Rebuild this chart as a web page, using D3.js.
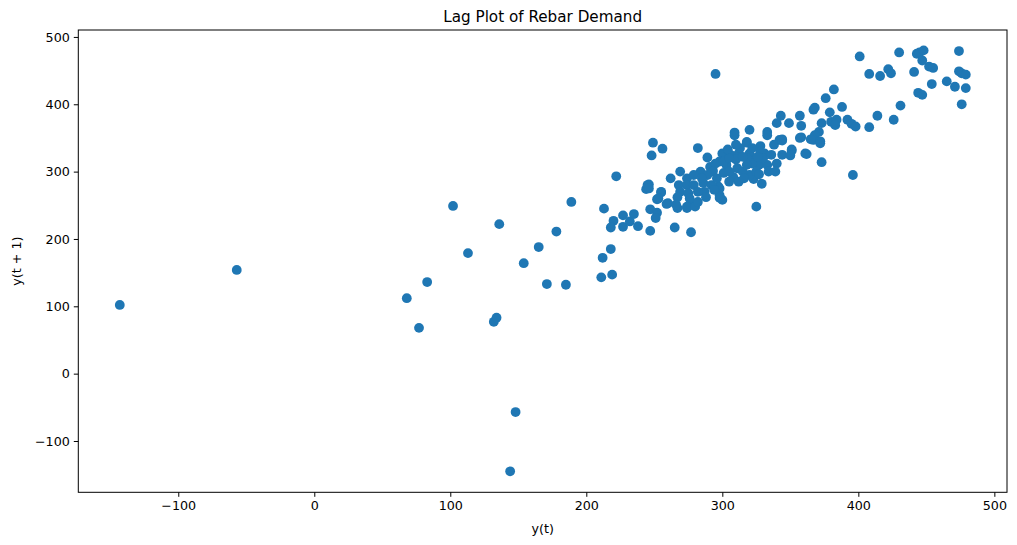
<!DOCTYPE html>
<html><head><meta charset="utf-8">
<script src="https://cdn.jsdelivr.net/npm/d3@7"></script>
<style>
body{margin:0;background:#fff;}
text{font-family:"DejaVu Sans",sans-serif;fill:#000;}
</style></head>
<body><svg id="c" width="1017" height="545"></svg>
<script>
const title = "Lag Plot of Rebar Demand";
const xLabel = "y(t)";
const yLabel = "y(t + 1)";
const xTicks = [-100, 0, 100, 200, 300, 400, 500];
const yTicks = [-100, 0, 100, 200, 300, 400, 500];
const points = [
[-143,102],[-57,154],[68,112],[77,68],[83,136],[102,249],[113,179],[132,77],[134,83],[136,222],[144,-145],[148,-57],[154,164],[165,188],[171,133],[178,211],[185,132],[189,255],
[211,143],[212,172],[218,185],[219,147],[213,245],[220,227],[218,217],[227,218],[232,226],[238,219],[227,235],[235,237],[222,293],
[247,244],[252,239],[251,231],[247,212],[244,274],[246,281],[255,270],[252,259],[259,252],[262,290],[269,300],[249,343],[248,324],[256,334],[265,217],[277,210],[267,246],[274,246],[279,250],[282,335],[289,321],[295,445],
[382,422],[376,409],[367,392],[368,395],[379,388],[357,383],[343,383],[340,372],[349,372],[358,368],[320,362],[309,358],[333,359],[358,351],[371,359],[368,354],[373,372],[380,374],[384,377],[318,343],[342,347],[338,340],[351,333],[328,338],[367,347],[372,345],[344,348],
[401,471],[408,445],[416,442],[388,396],[383,369],[392,377],[395,371],[398,367],[414,383],[408,366],[365,348],[430,477],[443,475],[445,477],[448,480],[474,479],[447,465],[452,456],[455,454],[422,452],[424,446],[441,448],[474,449],[476,446],[479,444],[454,430],[444,417],[447,414],[465,434],[471,426],[479,424],[476,400],[431,398],[426,377],[372,342],
[396,295],[362,326],[373,314],
[309,354],[318,344],[333,354],[344,346],[357,350],[361,327],[344,325],[351,331],[350,324],[298,275],[300,258],[325,248],[329,282],[298,265],[297,278],[287,270],[286,283],[292,280],[284,300],[300,327],[306,325],[312,327],[298,315],[303,310],[311,305],[293,302],[301,298],[308,292],[291,307],[295,312],[320,327],[324,317],[327,310],[322,312],[318,320],[331,327],[312,285],[323,289],[320,295],[333,310],[334,300],[315,300],[318,310],[328,330],[330,320],
[301,315],[274,290],[279,295],[268,280],[274,280],[279,280],[269,270],[275,268],[282,270],[267,262],[276,260],[288,262],[294,273],[245,280],[246,275],[255,269],[253,260],[260,253],[266,251],[274,248],[280,248],[282,255],[298,261],[293,300],[289,295],
[305,300],[310,318],[315,322],[305,320],[313,335],[326,322],[336,325],[340,312],[325,300],[316,290],[305,285],[296,290],[285,290],[310,340],[322,335],[304,333],[327,296],[339,300]
];
const xVals = points.map(p => p[0]);
const yVals = points.map(p => p[1]);

const svg = d3.select("#c");
const L = 78.3, R = 1007, T = 30, B = 492.3;
const x = d3.scaleLinear().domain([-173.5, 509.3]).range([L, R]);
const y = d3.scaleLinear().domain([-176.2, 510.3]).range([B, T]);
const fmt = d3.format("d");

svg.append("g").selectAll("circle").data(xVals).join("circle")
  .attr("cx", (d,i) => x(d)).attr("cy", (d,i) => y(yVals[i]))
  .attr("r", 4.9).attr("fill", "#1f77b4");

const xa = svg.append("g").attr("transform", `translate(0,${B})`)
  .call(d3.axisBottom(x).tickValues(xTicks).tickFormat(fmt).tickSize(4.5).tickPadding(4).tickSizeOuter(0));
const ya = svg.append("g").attr("transform", `translate(${L},0)`)
  .call(d3.axisLeft(y).tickValues(yTicks).tickFormat(fmt).tickSize(4.5).tickPadding(4).tickSizeOuter(0));
[xa, ya].forEach(a => {
  a.select(".domain").remove();
  a.selectAll("text").style("font-size", "12.7px").style("font-family", "DejaVu Sans");
  a.selectAll("line").attr("stroke", "#000").attr("stroke-width", 1);
});
svg.append("rect").attr("x", L).attr("y", T).attr("width", R - L).attr("height", B - T)
  .attr("fill", "none").attr("stroke", "#000").attr("stroke-width", 1);

svg.append("text").attr("x", (L + R) / 2).attr("y", 22).attr("text-anchor", "middle")
  .style("font-size", "15.2px").text(title);
svg.append("text").attr("x", (L + R) / 2).attr("y", 533).attr("text-anchor", "middle")
  .style("font-size", "12.7px").text(xLabel);
svg.append("text").attr("transform", `translate(21,${(T + B) / 2}) rotate(-90)`).attr("text-anchor", "middle")
  .style("font-size", "12.7px").text(yLabel);
</script></body></html>
